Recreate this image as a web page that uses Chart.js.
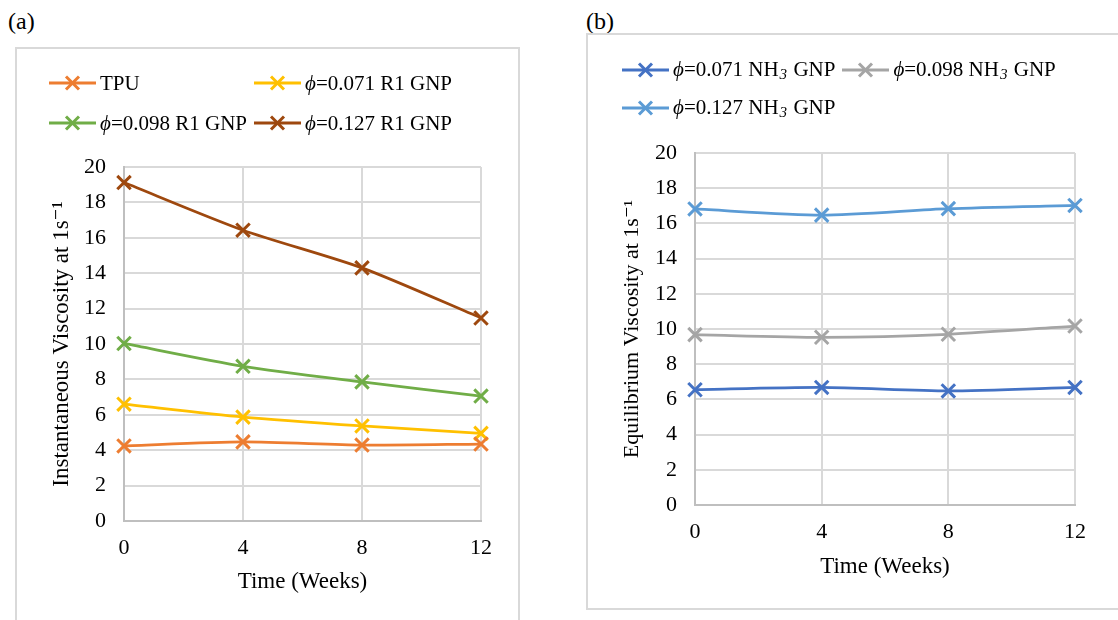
<!DOCTYPE html>
<html>
<head>
<meta charset="utf-8">
<script src="https://cdn.jsdelivr.net/npm/chart.js@4.4.0/dist/chart.umd.min.js"></script>
<style>
  body { margin: 0; width: 1118px; height: 620px; overflow: hidden; background: #fff;
         font-family: "Liberation Serif", Tinos, "Times New Roman", Times, "DejaVu Serif", serif;
         color: #000; position: relative; }
  .tag { position: absolute; font-size: 24px; line-height: 1; }
  .box { position: absolute; border: 2px solid #d9d9d9; background: #fff; }
  .box canvas { position: absolute; left: 0; top: 0; }
  .legend { position: absolute; display: grid; grid-template-columns: repeat(2, max-content);
            column-gap: 7px; font-size: 21px; white-space: nowrap; }
  .legend .item { display: flex; align-items: center; }
  .legend svg { margin-right: 4px; }
  .legend sub { font-size: 0.72em; vertical-align: -0.25em; margin-left: 1px; margin-right: 1px; }
</style>
</head>
<body>
<div class="tag" style="left:8px; top:9px;">(a)</div>
<div class="tag" style="left:586px; top:9px;">(b)</div>

<div class="box" style="left:15px; top:47px; width:501px; height:600px;">
  <canvas id="chartA" width="501" height="571"></canvas>
</div>
<div class="box" style="left:586px; top:33px; width:560px; height:573px;">
  <canvas id="chartB" width="530" height="573"></canvas>
</div>

<div class="legend" id="legendA" style="left:49px; top:63px; grid-auto-rows:40px;"></div>
<div class="legend" id="legendB" style="left:622px; top:51px; grid-auto-rows:38px;"></div>

<script>
// time axis (weeks)
const weeks = [0, 4, 8, 12];
const xTicks = [0, 4, 8, 12];
const yTicks = [0, 2, 4, 6, 8, 10, 12, 14, 16, 18, 20];

// (a) instantaneous viscosity at 1 s^-1
const namesA = ['TPU', 'ϕ=0.071 R1 GNP', 'ϕ=0.098 R1 GNP', 'ϕ=0.127 R1 GNP'];
const tpu = [4.24, 4.47, 4.29, 4.35];
const r1_071 = [6.6, 5.87, 5.37, 4.95];
const r1_098 = [10.03, 8.74, 7.86, 7.06];
const r1_127 = [19.12, 16.43, 14.3, 11.47];
const coloursA = ['#ed7d31', '#ffc000', '#70ad47', '#9e480e'];

// (b) equilibrium viscosity at 1 s^-1
const namesB = ['ϕ=0.071 NH3 GNP', 'ϕ=0.098 NH3 GNP', 'ϕ=0.127 NH3 GNP'];
const nh3_071 = [6.55, 6.68, 6.48, 6.68];
const nh3_098 = [9.68, 9.53, 9.7, 10.17];
const nh3_127 = [16.82, 16.47, 16.84, 17.02];
const coloursB = ['#4472c4', '#a5a5a5', '#5b9bd5'];

const FONT = '"Liberation Serif", Tinos, "Times New Roman", Times, "DejaVu Serif", serif';

function makeDatasets(names, series, colours) {
    return names.map((name, i) => ({
        label: name,
        data: weeks.map((w, j) => ({ x: w, y: series[i][j] })),
        borderColor: colours[i],
        backgroundColor: colours[i],
        borderWidth: 2.75,
        pointStyle: 'crossRot',
        pointRadius: 9.5,
        pointBorderWidth: 3,
        pointHoverRadius: 9.5,
        tension: 0.25,
        clip: false
    }));
}

function makeChart(id, datasets, yTitle, geo) {
    new Chart(document.getElementById(id), {
        type: 'line',
        data: { datasets: datasets },
        options: {
            responsive: false,
            animation: false,
            devicePixelRatio: 1,
            layout: { padding: { top: geo.top, right: geo.right, left: 0, bottom: 0 } },
            plugins: { legend: { display: false }, tooltip: { enabled: false } },
            scales: {
                x: {
                    type: 'linear', min: 0, max: 12,
                    afterBuildTicks: s => { s.ticks = xTicks.map(v => ({ value: v })); },
                    afterFit: s => { s.height = geo.xHeight; },
                    grid: { color: '#d9d9d9', lineWidth: 2, drawTicks: false },
                    border: { color: '#bfbfbf', width: 2 },
                    ticks: { padding: 14, color: '#000', font: { family: FONT, size: 22 } },
                    title: { display: true, text: 'Time (Weeks)', color: '#000',
                             font: { family: FONT, size: 23, lineHeight: 1.2 },
                             padding: { top: 0, bottom: geo.xTitlePad } }
                },
                y: {
                    min: 0, max: 20,
                    afterBuildTicks: s => { s.ticks = yTicks.map(v => ({ value: v })); },
                    afterFit: s => { s.width = 107; },
                    grid: { color: '#d9d9d9', lineWidth: 2, drawTicks: false },
                    border: { color: '#bfbfbf', width: 2 },
                    ticks: { padding: 18, color: '#000', font: { family: FONT, size: 22 } },
                    title: { display: true, text: yTitle, color: '#000',
                             font: { family: FONT, size: geo.yTitleSize, lineHeight: 1.2 },
                             padding: { top: 31, bottom: 0 } }
                }
            }
        }
    });
}

function buildLegend(id, names, colours) {
    const box = document.getElementById(id);
    names.forEach((name, i) => {
        const c = colours[i];
        const html = name.replace(/^ϕ/, '<i>ϕ</i>').replace('NH3', 'NH<sub><i>3</i></sub>');
        const item = document.createElement('div');
        item.className = 'item';
        item.innerHTML =
            '<svg width="47" height="20"><line x1="0" y1="10" x2="47" y2="10" stroke="' + c + '" stroke-width="3"/>' +
            '<line x1="17" y1="3.5" x2="30" y2="16.5" stroke="' + c + '" stroke-width="3"/>' +
            '<line x1="30" y1="3.5" x2="17" y2="16.5" stroke="' + c + '" stroke-width="3"/></svg>' +
            '<span>' + html + '</span>';
        box.appendChild(item);
    });
}

makeChart('chartA', makeDatasets(namesA, [tpu, r1_071, r1_098, r1_127], coloursA),
    'Instantaneous Viscosity at 1s⁻¹', { top: 118, right: 37, xHeight: 99, xTitlePad: 24, yTitleSize: 23 });
makeChart('chartB', makeDatasets(namesB, [nh3_071, nh3_098, nh3_127], coloursB),
    'Equilibrium Viscosity at 1s⁻¹', { top: 118, right: 43, xHeight: 103, xTitlePad: 27, yTitleSize: 22 });

buildLegend('legendA', namesA, coloursA);
buildLegend('legendB', namesB, coloursB);
</script>
</body>
</html>
